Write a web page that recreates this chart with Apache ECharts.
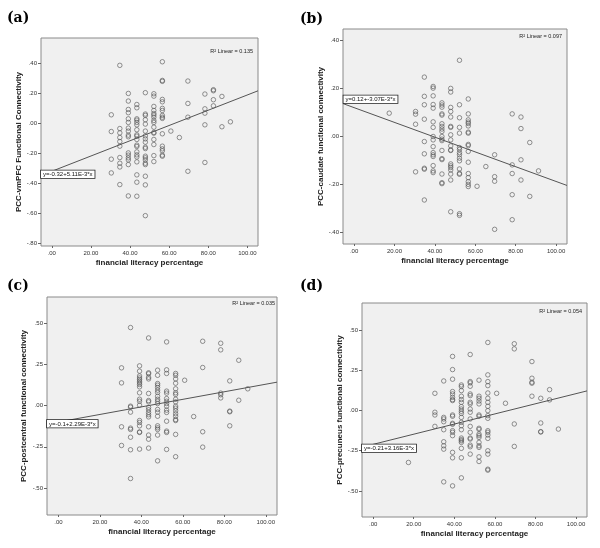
<!DOCTYPE html>
<html><head><meta charset="utf-8">
<script src="https://cdn.jsdelivr.net/npm/echarts@6/dist/echarts.min.js"></script>
<style>html,body{margin:0;padding:0;background:#fff;}#c{width:600px;height:548px;}</style>
</head><body><div id="c"></div>
<script>
// ---------- DATA ----------
const colsX = [17.39, 30.43, 34.78, 39.13, 43.48, 47.83, 52.17, 56.52, 60.87, 65.22, 69.57, 78.26, 82.61, 86.96, 91.30];

const aY = [
  [],
  [0.058, -0.054, -0.239, -0.331],
  [0.389, -0.034, -0.063, -0.094, -0.121, -0.152, -0.228, -0.266, -0.291, -0.409],
  [0.201, 0.150, 0.094, 0.072, 0.031, 0.007, -0.031, -0.051, -0.078, -0.089, -0.197, -0.212, -0.230, -0.244, -0.275, -0.485],
  [0.127, 0.105, 0.031, 0.022, 0.007, -0.009, -0.042, -0.076, -0.085, -0.107, -0.145, -0.154, -0.190, -0.210, -0.224, -0.257, -0.344, -0.393, -0.487],
  [0.206, 0.063, 0.054, 0.025, -0.004, -0.051, -0.083, -0.103, -0.125, -0.159, -0.168, -0.219, -0.230, -0.244, -0.266, -0.275, -0.353, -0.411, -0.617],
  [0.199, 0.183, 0.114, 0.087, 0.067, 0.056, 0.042, 0.020, 0.007, -0.025, -0.060, -0.065, -0.107, -0.141, -0.215, -0.255],
  [0.413, 0.288, 0.282, 0.161, 0.145, 0.101, 0.087, 0.054, 0.042, 0.034, -0.069, -0.152, -0.170, -0.183, -0.212, -0.219],
  [-0.051],
  [-0.094],
  [0.284, 0.134, 0.042, -0.320],
  [0.197, 0.098, 0.069, -0.009, -0.261],
  [0.226, 0.219, 0.159, 0.118],
  [0.181, -0.022],
  [0.011]
];

const bY = [
  [0.097],
  [0.104, 0.093, 0.051, -0.147],
  [0.247, 0.167, 0.132, 0.072, -0.021, -0.072, -0.132, -0.136, -0.264],
  [0.208, 0.201, 0.169, 0.133, 0.118, 0.061, 0.038, 0.000, -0.014, -0.042, -0.067, -0.076, -0.083, -0.121, -0.143, -0.150],
  [0.140, 0.131, 0.122, 0.094, 0.089, 0.053, 0.042, 0.031, 0.021, 0.000, -0.011, -0.017, -0.058, -0.092, -0.096, -0.156, -0.192, -0.196],
  [0.200, 0.185, 0.121, 0.104, 0.081, 0.042, 0.038, 0.007, -0.014, -0.039, -0.056, -0.058, -0.114, -0.122, -0.129, -0.139, -0.156, -0.181, -0.313],
  [0.317, 0.132, 0.078, 0.038, 0.014, -0.046, -0.054, -0.067, -0.076, -0.090, -0.101, -0.135, -0.153, -0.157, -0.321, -0.328],
  [0.156, 0.094, 0.069, 0.060, 0.054, 0.044, 0.018, 0.014, -0.033, -0.038, -0.062, -0.107, -0.154, -0.171, -0.188, -0.199, -0.208],
  [-0.207],
  [-0.125],
  [-0.076, -0.167, -0.186, -0.386],
  [0.094, -0.118, -0.154, -0.242, -0.346],
  [0.081, 0.033, -0.097, -0.181],
  [-0.025, -0.249],
  [-0.143]
];

const cY = [
  [],
  [0.228, 0.137, -0.129, -0.242],
  [0.472, -0.004, -0.010, -0.040, -0.137, -0.145, -0.192, -0.268, -0.442],
  [0.240, 0.208, 0.179, 0.167, 0.157, 0.147, 0.137, 0.127, 0.113, 0.077, 0.038, 0.026, 0.002, -0.091, -0.103, -0.123, -0.160, -0.163, -0.264],
  [0.409, 0.198, 0.192, 0.171, 0.161, 0.073, 0.030, 0.022, -0.012, -0.026, -0.042, -0.056, -0.069, -0.129, -0.179, -0.204, -0.258],
  [0.214, 0.183, 0.133, 0.123, 0.109, 0.093, 0.079, 0.056, 0.038, 0.026, 0.012, -0.024, -0.040, -0.065, -0.123, -0.135, -0.145, -0.179, -0.335],
  [0.385, 0.216, 0.194, 0.087, 0.075, 0.042, 0.026, 0.012, -0.004, -0.028, -0.042, -0.095, -0.155, -0.163, -0.266],
  [0.194, 0.183, 0.161, 0.135, 0.101, 0.077, 0.067, 0.038, 0.022, -0.004, -0.016, -0.032, -0.050, -0.065, -0.085, -0.091, -0.175, -0.310],
  [0.153],
  [-0.067],
  [0.389, 0.230, -0.159, -0.252],
  [0.377, 0.337, 0.075, 0.065, 0.046],
  [0.149, -0.034, -0.038, -0.123],
  [0.274, 0.032],
  [0.101]
];

const dY = [
  [-0.323],
  [0.108, -0.010, -0.027, -0.098],
  [0.185, -0.042, -0.052, -0.069, -0.119, -0.194, -0.219, -0.240, -0.444],
  [0.338, 0.256, 0.196, 0.119, 0.104, 0.083, 0.069, 0.063, -0.027, -0.035, -0.079, -0.085, -0.125, -0.135, -0.156, -0.260, -0.294, -0.469],
  [0.160, 0.150, 0.125, 0.090, 0.069, 0.052, 0.025, 0.010, -0.004, -0.017, -0.042, -0.073, -0.094, -0.119, -0.171, -0.181, -0.188, -0.198, -0.235, -0.294, -0.419],
  [0.350, 0.181, 0.173, 0.152, 0.104, 0.094, 0.052, 0.042, 0.010, -0.010, -0.052, -0.098, -0.135, -0.171, -0.177, -0.215, -0.225, -0.271],
  [0.190, 0.090, 0.077, 0.060, 0.042, -0.027, -0.035, -0.110, -0.117, -0.146, -0.156, -0.167, -0.198, -0.219, -0.229, -0.288, -0.317],
  [0.425, 0.223, 0.181, 0.156, 0.110, 0.077, 0.052, 0.027, 0.000, -0.031, -0.048, -0.125, -0.135, -0.152, -0.173, -0.250, -0.271, -0.365, -0.371],
  [0.108],
  [0.046],
  [0.417, 0.385, -0.083, -0.223],
  [0.306, 0.202, 0.177, 0.171, 0.090],
  [0.077, -0.077, -0.131, -0.133],
  [0.131, 0.067],
  [-0.115]
];

const xTicks = [0, 20, 40, 60, 80, 100];
const aYTicks = [-0.8, -0.6, -0.4, -0.2, 0, 0.2, 0.4];
const bYTicks = [-0.4, -0.2, 0, 0.2, 0.4];
const cYTicks = [-0.5, -0.25, 0, 0.25, 0.5];
const dYTicks = [-0.5, -0.25, 0, 0.25, 0.5];

const intercepts = [-0.32, 0.12, -0.1, -0.21];
const slopes = [5.11e-3, -3.07e-3, 2.29e-3, 3.16e-3];
const r2Values = ['0.135', '0.097', '0.035', '0.054'];
const equations = ['y=-0.32+5.11E-3*x', 'y=0.12+-3.07E-3*x', 'y=-0.1+2.29E-3*x', 'y=-0.21+3.16E-3*x'];
const panelLabels = ['(a)', '(b)', '(c)', '(d)'];
const yNames = ['PCC-vmPFC Functional Connectivity', 'PCC-caudate functional connectivity',
  'PCC-postcentral functional connectivity', 'PCC-precuneus functional connectivity'];
const xName = 'financial literacy percentage';

// ---------- LAYOUT ----------
const panels = [
  {ys: aY, ticks: aYTicks, ymin: -0.82, ymax: 0.572, grid: {left: 41, top: 38, width: 217, height: 208},
   yGap: 16, eq: [41, 170.5], r2: [253, 51.5], lab: [7, 11]},
  {ys: bY, ticks: bYTicks, ymin: -0.447, ymax: 0.447, grid: {left: 343, top: 29, width: 224, height: 215},
   yGap: 18, eq: [343.5, 95.5], r2: [562, 36], lab: [300, 12.5]},
  {ys: cY, ticks: cYTicks, ymin: -0.663, ymax: 0.657, grid: {left: 47, top: 297, width: 230, height: 218},
   yGap: 19, eq: [47, 420], r2: [275, 303], lab: [7, 279]},
  {ys: dY, ticks: dYTicks, ymin: -0.663, ymax: 0.671, grid: {left: 362, top: 303, width: 225, height: 214},
   yGap: 18, eq: [362, 444.5], r2: [582, 311.5], lab: [300, 279]}
];
const XMIN = -5.5, XMAX = 105.4;
const FONT = 'Liberation Sans, Arial, sans-serif';

const yFmt = v => (v < 0 ? '-' : '') + Math.abs(v).toFixed(2).replace(/^0/, '');
const xFmt = v => v === 0 ? '.00' : v.toFixed(2);

const grids = [], xAxes = [], yAxes = [], series = [], graphics = [];
panels.forEach((p, i) => {
  grids.push(Object.assign({show: true, backgroundColor: '#f0f0f0', borderColor: '#8a8a8a', borderWidth: 1}, p.grid));
  xAxes.push({
    type: 'value', gridIndex: i, min: XMIN, max: XMAX, position: 'bottom',
    name: xName, nameLocation: 'middle', nameGap: 13,
    nameTextStyle: {fontFamily: FONT, fontWeight: 'bold', fontSize: 8, color: '#222'},
    axisLine: {show: false, onZero: false}, splitLine: {show: false},
    axisTick: {show: true, length: 2, customValues: xTicks, lineStyle: {color: '#666'}},
    axisLabel: {customValues: xTicks, formatter: xFmt, fontFamily: FONT, fontSize: 6, color: '#333', margin: 4}
  });
  yAxes.push({
    type: 'value', gridIndex: i, min: p.ymin, max: p.ymax, position: 'left',
    name: yNames[i], nameLocation: 'middle', nameGap: p.yGap, nameRotate: 90,
    nameTextStyle: {fontFamily: FONT, fontWeight: 'bold', fontSize: 8, color: '#222'},
    axisLine: {show: false, onZero: false}, splitLine: {show: false},
    axisTick: {show: true, length: 3, customValues: p.ticks, lineStyle: {color: '#666'}},
    axisLabel: {customValues: p.ticks, formatter: yFmt, fontFamily: FONT, fontSize: 6, color: '#333', margin: 4}
  });
  const pts = [];
  colsX.forEach((x, k) => p.ys[k].forEach(y => pts.push([x, y])));
  series.push({
    type: 'scatter', xAxisIndex: i, yAxisIndex: i, data: pts, symbol: 'circle', symbolSize: 4.5,
    itemStyle: {color: 'rgba(0,0,0,0)', borderColor: '#555', borderWidth: 0.8}, z: 3
  });
  series.push({
    type: 'line', xAxisIndex: i, yAxisIndex: i, showSymbol: false, symbol: 'none',
    data: [[XMIN, intercepts[i] + slopes[i] * XMIN], [XMAX, intercepts[i] + slopes[i] * XMAX]],
    lineStyle: {color: '#555', width: 1}, z: 2
  });
  graphics.push({
    type: 'text', z: 100, x: p.eq[0], y: p.eq[1],
    style: {text: equations[i], font: '6px ' + FONT, fill: '#111', backgroundColor: '#fff',
      borderColor: '#222', borderWidth: 0.8, padding: [1, 2, 0.5, 2], textVerticalAlign: 'top'}
  });
  graphics.push({
    type: 'text', z: 100, x: p.r2[0], y: p.r2[1],
    style: {text: 'R² Linear = ' + r2Values[i], font: '5.5px ' + FONT, fill: '#222', textAlign: 'right', textVerticalAlign: 'middle'}
  });
  graphics.push({
    type: 'text', z: 100, x: p.lab[0], y: p.lab[1],
    style: {text: panelLabels[i], font: 'bold 14px DejaVu Serif', fill: '#000', textVerticalAlign: 'top'}
  });
});

const chart = echarts.init(document.getElementById('c'), null, {renderer: 'canvas'});
chart.setOption({
  animation: false, backgroundColor: '#fff',
  grid: grids, xAxis: xAxes, yAxis: yAxes, series: series, graphic: graphics
});
</script></body></html>
